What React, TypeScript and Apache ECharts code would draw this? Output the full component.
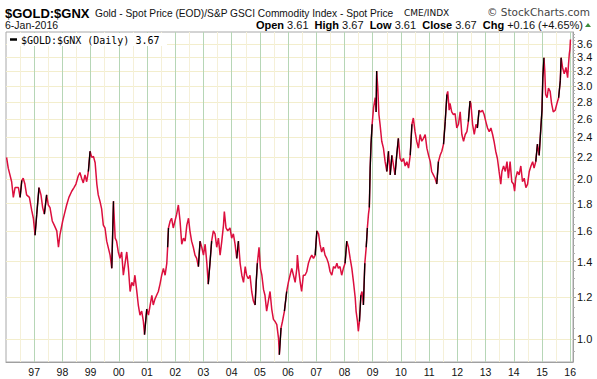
import React, { useEffect, useRef } from "react";
import * as echarts from "echarts";

// ---- data (decimal year, ratio) ----
const YEARS = [
  1996.02, 1996.08, 1996.14, 1996.2, 1996.26, 1996.32, 1996.44, 1996.5, 1996.56, 1996.61, 1996.67, 1996.73, 1996.83, 1996.91, 1996.97,
  1997.03, 1997.09, 1997.17, 1997.24, 1997.3, 1997.36, 1997.44, 1997.5, 1997.56, 1997.64, 1997.71, 1997.8, 1997.86, 1997.91,
  1998.01, 1998.07, 1998.15, 1998.23, 1998.33, 1998.41, 1998.48, 1998.56, 1998.62, 1998.68, 1998.74, 1998.8, 1998.86, 1998.92, 1998.98,
  1999.04, 1999.1, 1999.16, 1999.22, 1999.27, 1999.33, 1999.39, 1999.45, 1999.51, 1999.57, 1999.69, 1999.75, 1999.81, 1999.87, 1999.92, 1999.98,
  2000.04, 2000.1, 2000.16, 2000.22, 2000.28, 2000.34, 2000.4, 2000.46, 2000.52, 2000.57, 2000.63, 2000.69, 2000.75, 2000.81, 2000.87, 2000.91, 2000.99,
  2001.05, 2001.11, 2001.17, 2001.22, 2001.28, 2001.34, 2001.4, 2001.46, 2001.52, 2001.58, 2001.64, 2001.7, 2001.73, 2001.76, 2001.82, 2001.87, 2001.93, 2001.99,
  2002.05, 2002.11, 2002.17, 2002.23, 2002.29, 2002.35, 2002.41, 2002.47, 2002.52, 2002.58, 2002.64, 2002.7, 2002.76, 2002.82, 2002.88, 2002.94,
  2003.0, 2003.06, 2003.12, 2003.17, 2003.23, 2003.29, 2003.35, 2003.41, 2003.47, 2003.53, 2003.59, 2003.65, 2003.71, 2003.74, 2003.8, 2003.86, 2003.94,
  2004.0, 2004.06, 2004.12, 2004.18, 2004.24, 2004.3, 2004.36, 2004.42, 2004.48, 2004.53, 2004.59, 2004.65, 2004.71, 2004.77, 2004.83, 2004.87, 2004.91, 2004.97,
  2005.02, 2005.07, 2005.13, 2005.18, 2005.24, 2005.3, 2005.36, 2005.42, 2005.48, 2005.54, 2005.6, 2005.66, 2005.69, 2005.75, 2005.8, 2005.87, 2005.95,
  2006.01, 2006.07, 2006.13, 2006.19, 2006.25, 2006.31, 2006.33, 2006.37, 2006.43, 2006.48, 2006.54, 2006.6, 2006.66, 2006.72, 2006.78, 2006.84, 2006.9, 2006.96,
  2007.02, 2007.08, 2007.13, 2007.19, 2007.25, 2007.31, 2007.37, 2007.43, 2007.49, 2007.55, 2007.61, 2007.67, 2007.73, 2007.78, 2007.84, 2007.9, 2007.96,
  2008.02, 2008.08, 2008.14, 2008.2, 2008.26, 2008.32, 2008.38, 2008.41, 2008.46, 2008.49, 2008.53, 2008.58, 2008.62, 2008.67, 2008.72, 2008.77, 2008.81, 2008.85, 2008.88, 2008.91, 2008.94, 2008.98,
  2009.03, 2009.09, 2009.12, 2009.14, 2009.18, 2009.22, 2009.26, 2009.32, 2009.38, 2009.44, 2009.5, 2009.56, 2009.62, 2009.68, 2009.74, 2009.79, 2009.85, 2009.91, 2009.97,
  2010.03, 2010.09, 2010.15, 2010.21, 2010.27, 2010.33, 2010.39, 2010.44, 2010.5, 2010.56, 2010.62, 2010.68, 2010.74, 2010.8, 2010.86, 2010.92, 2010.98,
  2011.04, 2011.09, 2011.15, 2011.21, 2011.27, 2011.33, 2011.39, 2011.45, 2011.51, 2011.57, 2011.63, 2011.66, 2011.71, 2011.74, 2011.8, 2011.86, 2011.92, 2011.98,
  2012.04, 2012.1, 2012.16, 2012.22, 2012.28, 2012.34, 2012.39, 2012.45, 2012.48, 2012.54, 2012.6, 2012.66, 2012.71, 2012.77, 2012.83, 2012.89, 2012.95,
  2013.01, 2013.07, 2013.13, 2013.19, 2013.25, 2013.3, 2013.36, 2013.42, 2013.48, 2013.54, 2013.58, 2013.64, 2013.7, 2013.76, 2013.81, 2013.87, 2013.93, 2013.99,
  2014.03, 2014.07, 2014.13, 2014.19, 2014.25, 2014.31, 2014.37, 2014.43, 2014.49, 2014.55, 2014.61, 2014.67, 2014.72, 2014.78, 2014.84, 2014.9, 2014.96,
  2015.0, 2015.03, 2015.07, 2015.1, 2015.13, 2015.18, 2015.23, 2015.29, 2015.34, 2015.4, 2015.47, 2015.53, 2015.59, 2015.65, 2015.68, 2015.73, 2015.79, 2015.85, 2015.91, 2015.94, 2015.97, 2015.99,
  2016.01,
];
const RATIO = [
  2.2, 2.1, 2.04, 1.98, 1.85, 1.93, 1.93, 1.85, 1.99, 2.01, 1.96, 1.87, 1.85, 1.75, 1.69,
  1.57, 1.72, 1.93, 1.87, 1.77, 1.72, 1.87, 1.79, 1.77, 1.67, 1.64, 1.6, 1.49, 1.57,
  1.67, 1.72, 1.79, 1.85, 1.9, 1.93, 1.96, 2.03, 2.06, 2.01, 1.97, 2.04, 1.98, 2.07, 2.26,
  2.2, 2.21, 2.15, 1.96, 1.87, 1.82, 1.76, 1.64, 1.62, 1.53, 1.44, 1.36, 1.82, 1.55, 1.53, 1.46,
  1.42, 1.46, 1.32, 1.39, 1.46, 1.36, 1.23, 1.28, 1.26, 1.32, 1.24, 1.16, 1.11, 1.13, 1.08, 1.02, 1.14,
  1.11, 1.16, 1.21, 1.16, 1.19, 1.21, 1.23, 1.27, 1.32, 1.36, 1.32, 1.39, 1.49, 1.62, 1.67, 1.69, 1.62, 1.67,
  1.72, 1.79, 1.67, 1.51, 1.55, 1.53, 1.64, 1.69, 1.6, 1.53, 1.49, 1.44, 1.42, 1.37, 1.53, 1.49,
  1.44, 1.51, 1.39, 1.27, 1.39, 1.53, 1.6, 1.58, 1.49, 1.55, 1.44, 1.53, 1.64, 1.74, 1.62, 1.6, 1.62,
  1.55, 1.58, 1.51, 1.42, 1.53, 1.39, 1.32, 1.28, 1.37, 1.32, 1.3, 1.32, 1.23, 1.18, 1.16, 1.28, 1.39, 1.49,
  1.36, 1.32, 1.24, 1.21, 1.13, 1.18, 1.23, 1.14, 1.09, 1.08, 1.065, 1.005, 0.935, 1.05, 1.08, 1.13, 1.23,
  1.28, 1.32, 1.36, 1.32, 1.28, 1.36, 1.44, 1.36, 1.28, 1.23, 1.32, 1.32, 1.34, 1.39, 1.42, 1.44, 1.42, 1.44,
  1.6, 1.58, 1.51, 1.46, 1.49, 1.44, 1.42, 1.39, 1.34, 1.32, 1.37, 1.36, 1.39, 1.36, 1.37, 1.32, 1.36,
  1.39, 1.53, 1.49, 1.42, 1.36, 1.28, 1.196, 1.13, 1.08, 1.035, 1.08, 1.21, 1.23, 1.16, 1.39, 1.49, 1.62, 1.72, 1.77, 2.1, 2.33, 2.54,
  2.73, 2.85, 2.68, 3.2, 2.97, 2.65, 2.54, 2.36, 2.29, 2.16, 2.07, 2.26, 2.04, 2.22, 2.12, 2.04, 2.22, 2.39, 2.19,
  2.16, 2.19, 2.12, 2.16, 2.1, 2.22, 2.54, 2.61, 2.46, 2.36, 2.29, 2.43, 2.36, 2.39, 2.43, 2.29, 2.22,
  2.16, 2.07, 2.04, 2.01, 1.96, 2.16, 2.22, 2.26, 2.33, 2.57, 2.89, 2.93, 2.7, 2.78, 2.68, 2.65, 2.66, 2.5,
  2.54, 2.68, 2.43, 2.36, 2.43, 2.46, 2.57, 2.81, 2.78, 2.54, 2.43, 2.54, 2.5, 2.7, 2.68, 2.7, 2.65,
  2.57, 2.5, 2.46, 2.5, 2.43, 2.36, 2.26, 2.19, 2.07, 1.96, 2.07, 2.12, 2.07, 2.16, 2.01, 2.16, 1.98, 1.96,
  1.9, 2.01, 2.07, 2.04, 2.12, 1.98, 2.01, 1.93, 1.96, 2.07, 2.12, 2.16, 2.1, 2.16, 2.33, 2.22, 2.5,
  2.7, 3.11, 3.39, 3.2, 2.89, 2.85, 2.97, 2.93, 2.78, 2.68, 2.7, 2.78, 2.85, 3.07, 3.39, 3.25, 3.16, 3.25, 3.11, 3.29, 3.45, 3.51,
  3.67,
];

const X_YEARS = [1997, 1998, 1999, 2000, 2001, 2002, 2003, 2004, 2005, 2006, 2007, 2008, 2009, 2010, 2011, 2012, 2013, 2014, 2015, 2016];
const X_LABELS = ["97", "98", "99", "00", "01", "02", "03", "04", "05", "06", "07", "08", "09", "10", "11", "12", "13", "14", "15", "16"];
const X_MID = [1996.5, 1997.5, 1998.5, 1999.5, 2000.5, 2001.5, 2002.5, 2003.5, 2004.5, 2005.5, 2006.5, 2007.5, 2008.5, 2009.5, 2010.5, 2011.5, 2012.5, 2013.5, 2014.5, 2015.5];
const Y_TICKS = [1.0, 1.2, 1.4, 1.6, 1.8, 2.0, 2.2, 2.4, 2.6, 2.8, 3.0, 3.2, 3.4, 3.6];
const Y_MINOR = [0.95, 1.05, 1.1, 1.15, 1.25, 1.3, 1.35, 1.45, 1.5, 1.55, 1.65, 1.7, 1.75, 1.85, 1.9, 1.95, 2.05, 2.1, 2.15, 2.25, 2.3, 2.35, 2.45, 2.5, 2.55, 2.65, 2.7, 2.75, 2.85, 2.9, 2.95, 3.05, 3.1, 3.15, 3.25, 3.3, 3.35, 3.45, 3.5, 3.55, 3.65, 3.7, 3.75];

const X_MIN = 1996;
const X_MAX = 2016.1;
const Y_MIN = 0.906;
const Y_MAX = 3.79;

const FONT = "'Liberation Sans', Arial, sans-serif";
const RED = "#dc0f3e";

export default function App() {
  const ref = useRef<HTMLDivElement>(null);
  useEffect(() => {
    if (!ref.current) return;
    const chart = echarts.init(ref.current, null, { renderer: "svg" });

    const lineData = YEARS.map((y, i) => [y, Math.log(RATIO[i])]);
    // strong up-moves are drawn in black, as in the reference
    const upData: any[] = [];
    for (let i = 0; i < YEARS.length - 1; i++) {
      if (RATIO[i + 1] >= RATIO[i] * 1.075) {
        upData.push([YEARS[i], Math.log(RATIO[i])]);
        upData.push([YEARS[i + 1], Math.log(RATIO[i + 1])]);
        upData.push([YEARS[i + 1], "-"]);
      }
    }

    const option: any = {
      animation: false,
      backgroundColor: "#ffffff",
      grid: {
        left: 6, right: 24, top: 32, bottom: 17,
        containLabel: false, outerBoundsMode: "none",
        show: true, borderColor: "#a8a8a8", borderWidth: 1, backgroundColor: "transparent",
      },
      xAxis: [
        {
          type: "value", min: X_MIN, max: X_MAX, position: "bottom",
          axisLine: { show: true, onZero: false, lineStyle: { color: "#a0a0a0" } },
          axisTick: { show: false, customValues: X_YEARS },
          axisLabel: {
            customValues: X_YEARS,
            formatter: (v: number) => X_LABELS[X_YEARS.indexOf(Math.round(v))] ?? "",
            color: "#111", fontSize: 10.5, fontFamily: FONT, margin: 4,
          },
          splitLine: { show: true, lineStyle: { color: "#b6d6b6", width: 1 } },
        },
        {
          type: "value", min: X_MIN, max: X_MAX, position: "bottom",
          axisLine: { show: false },
          axisTick: { show: false, customValues: X_MID },
          axisLabel: { show: false },
          splitLine: { show: true, lineStyle: { color: "#f5f0d8", width: 1 } },
        },
      ],
      yAxis: [
        {
          type: "value", min: Math.log(Y_MIN), max: Math.log(Y_MAX), position: "right",
          axisLine: { show: true, lineStyle: { color: "#a0a0a0" } },
          axisTick: { show: true, length: 3, inside: false, customValues: Y_TICKS.map(Math.log), lineStyle: { color: "#a0a0a0" } },
          axisLabel: {
            customValues: Y_TICKS.map(Math.log),
            formatter: (v: number) => Math.exp(v).toFixed(1),
            color: "#111", fontSize: 11, fontFamily: FONT, margin: 4,
          },
          splitLine: { show: true, lineStyle: { color: "#f3eecd", width: 1 } },
        },
        {
          type: "value", min: Math.log(Y_MIN), max: Math.log(Y_MAX), position: "right",
          axisLine: { show: false },
          axisTick: { show: true, length: 2, customValues: Y_MINOR.map(Math.log), lineStyle: { color: "#b0b0b0" } },
          axisLabel: { show: false },
          splitLine: { show: false },
        },
      ],
      series: [
        {
          type: "line", xAxisIndex: 0, yAxisIndex: 0, data: lineData,
          showSymbol: false, symbol: "none", z: 3,
          lineStyle: { color: RED, width: 1.5 },
        },
        {
          type: "line", xAxisIndex: 0, yAxisIndex: 0, data: upData,
          showSymbol: false, symbol: "none", z: 4, connectNulls: false,
          lineStyle: { color: "#000000", width: 1.3 },
        },
      ],
      graphic: {
        elements: [
          { type: "text", x: 5, y: 13, z: 100, style: { text: "$GOLD:$GNX", fontSize: 13, fontWeight: "bold", fontFamily: FONT, fill: "#000", verticalAlign: "middle", textVerticalAlign: "middle" } },
          { type: "text", x: 95, y: 13, z: 100, style: { text: "Gold - Spot Price (EOD)/S&P GSCI Commodity Index - Spot Price", fontSize: 10.2, fontFamily: FONT, fill: "#111", verticalAlign: "middle", textVerticalAlign: "middle" } },
          { type: "text", x: 404, y: 13, z: 100, style: { text: "CME/INDX", fontSize: 9, fontFamily: "'DejaVu Sans', sans-serif", fill: "#111", verticalAlign: "middle", textVerticalAlign: "middle" } },
          { type: "text", x: 590, y: 12, z: 100, style: { text: "© StockCharts.com", fontSize: 10.5, fontFamily: "'DejaVu Sans', sans-serif", fill: "#444", align: "right", textAlign: "right", verticalAlign: "middle", textVerticalAlign: "middle" } },
          { type: "text", x: 5, y: 25, z: 100, style: { text: "6-Jan-2016", fontSize: 10.5, fontFamily: FONT, fill: "#111", verticalAlign: "middle", textVerticalAlign: "middle" } },
          {
            type: "text", x: 583, y: 25, z: 100,
            style: {
              text: "{b|Open} 3.61  {b|High} 3.67  {b|Low} 3.61  {b|Close} 3.67  {b|Chg} +0.16 (+4.65%)",
              fontSize: 11, fontFamily: FONT, fill: "#111",
              align: "right", textAlign: "right", verticalAlign: "middle", textVerticalAlign: "middle",
              rich: { b: { fontSize: 11, fontFamily: FONT, fontWeight: "bold", fill: "#000" } },
            },
          },
          { type: "polygon", z: 100, shape: { points: [[585, 27], [591, 27], [588, 23]] }, style: { fill: "#3c8c3c" } },
          { type: "rect", z: 90, shape: { x: 7, y: 33, width: 160, height: 13 }, style: { fill: "#ffffff" } },
          { type: "line", z: 100, shape: { x1: 10, y1: 39.5, x2: 17, y2: 39.5 }, style: { stroke: "#000", lineWidth: 2.5 } },
          { type: "text", x: 21, y: 40, z: 100, style: { text: "$GOLD:$GNX (Daily) 3.67", fontSize: 10, fontFamily: "'DejaVu Sans Mono', monospace", fill: "#000", verticalAlign: "middle", textVerticalAlign: "middle" } },
        ],
      },
    };
    chart.setOption(option);
    return () => chart.dispose();
  }, []);

  return (
    <div
      ref={ref}
      style={{ position: "fixed", left: 0, top: 0, width: 597, height: 379, background: "#fff" }}
    />
  );
}
